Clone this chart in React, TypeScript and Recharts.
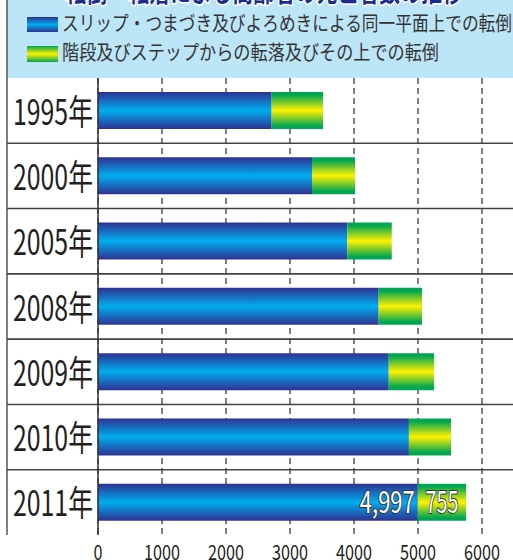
import { BarChart, Bar, XAxis, YAxis, CartesianGrid, ReferenceLine, LabelList } from "recharts";

const title = "転倒・転落による高齢者の死亡者数の推移";
const seriesNames = [
  "スリップ・つまづき及びよろめきによる同一平面上での転倒",
  "階段及びステップからの転落及びその上での転倒",
];
const years = ["1995年", "2000年", "2005年", "2008年", "2009年", "2010年", "2011年"];
const slipValues = [2713, 3344, 3896, 4385, 4543, 4858, 4997];
const stairValues = [804, 673, 694, 678, 709, 658, 755];
const xTicks = [0, 1000, 2000, 3000, 4000, 5000, 6000];
const labeledYear = "2011年";

const data = years.map((year, i) => ({ year, slip: slipValues[i], stairs: stairValues[i] }));

const FONT = "'Noto Sans CJK JP', 'Noto Sans', sans-serif";

const YearTick = (props: any) => {
  const { x, y, payload } = props;
  return (
    <text
      x={x - 37}
      y={y + 14}
      textAnchor="middle"
      fontSize={35}
      fontFamily={FONT}
      fill="#231f20"
      textLength={80}
      lengthAdjust="spacingAndGlyphs"
    >
      {payload.value}
    </text>
  );
};

const NumTick = (props: any) => {
  const { x, y, payload } = props;
  const s = String(payload.value);
  return (
    <text
      x={x}
      y={y + 17}
      textAnchor="middle"
      fontSize={21}
      fontFamily={FONT}
      fill="#231f20"
      textLength={s.length * 9}
      lengthAdjust="spacingAndGlyphs"
    >
      {s}
    </text>
  );
};

// row separators run across the whole frame, not just the plot
const RowLine = (props: any) => (
  <line x1={7} x2={513} y1={props.y1} y2={props.y1} stroke="#444" strokeWidth={1.6} />
);

const valueLabel = (anchor: "end" | "middle") => (props: any) => {
  const { x, y, width, height, value, index } = props;
  if (years[index] !== labeledYear) return null;
  const s = Number(value).toLocaleString("en-US");
  const tx = anchor === "end" ? x + width - 3 : x + width / 2;
  return (
    <text
      x={tx}
      y={y + height / 2 + 11}
      textAnchor={anchor}
      fontSize={30}
      fontFamily={FONT}
      fill="#fff"
      stroke="#333"
      strokeWidth={2}
      paintOrder="stroke"
      textLength={s.length * 11}
      lengthAdjust="spacingAndGlyphs"
    >
      {s}
    </text>
  );
};

export default function App() {
  const lastYear = years[years.length - 1];
  return (
    <div style={{ position: "absolute", left: 0, top: 0, width: 513, height: 560, background: "#fff", overflow: "hidden" }}>
      <svg width={513} height={560} style={{ position: "absolute", left: 0, top: 0 }}>
        <defs>
          <linearGradient id="swBlue" x1="0" y1="0" x2="0" y2="1">
            <stop offset="0" stopColor="#2e3192" />
            <stop offset="0.5" stopColor="#00aeef" />
            <stop offset="1" stopColor="#2e3192" />
          </linearGradient>
          <linearGradient id="swGreen" x1="0" y1="0" x2="0" y2="1">
            <stop offset="0" stopColor="#00a651" />
            <stop offset="0.5" stopColor="#fff200" />
            <stop offset="1" stopColor="#00a651" />
          </linearGradient>
        </defs>
        <rect x={7} y={0} width={506} height={78} fill="#bde5f8" />
        <text
          x={65}
          y={2}
          fontSize={28}
          fontWeight="bold"
          fontFamily={FONT}
          fill="#1d2c8c"
          stroke="#fff"
          strokeWidth={3}
          paintOrder="stroke"
          textLength={398}
          lengthAdjust="spacingAndGlyphs"
        >
          {title}
        </text>
        <rect x={27} y={17} width={31} height={15} fill="url(#swBlue)" />
        <text x={62} y={31} fontSize={20} fontFamily={FONT} fill="#333" textLength={450} lengthAdjust="spacingAndGlyphs">
          {seriesNames[0]}
        </text>
        <rect x={27} y={46} width={31} height={16} fill="url(#swGreen)" />
        <text x={62} y={60} fontSize={20} fontFamily={FONT} fill="#333" textLength={377} lengthAdjust="spacingAndGlyphs">
          {seriesNames[1]}
        </text>
        <line x1={7} x2={7} y1={0} y2={535} stroke="#555" strokeWidth={1.5} />
      </svg>
      <div style={{ position: "absolute", left: 0, top: 0 }}>
        <BarChart
          width={513}
          height={560}
          data={data}
          layout="vertical"
          margin={{ top: 78, right: 31, bottom: 0, left: 7 }}
          barSize={37}
        >
          <defs>
            <linearGradient id="barBlue" x1="0" y1="0" x2="0" y2="1">
              <stop offset="0" stopColor="#2e3192" />
              <stop offset="0.5" stopColor="#00aeef" />
              <stop offset="1" stopColor="#2e3192" />
            </linearGradient>
            <linearGradient id="barGreen" x1="0" y1="0" x2="0" y2="1">
              <stop offset="0" stopColor="#00a651" />
              <stop offset="0.08" stopColor="#00a651" />
              <stop offset="0.5" stopColor="#fff200" />
              <stop offset="0.92" stopColor="#00a651" />
              <stop offset="1" stopColor="#00a651" />
            </linearGradient>
          </defs>
          <CartesianGrid horizontal={false} stroke="#555" strokeWidth={1.5} strokeDasharray="6 4" />
          <XAxis
            type="number"
            domain={[0, 6000]}
            ticks={xTicks}
            axisLine={false}
            tickLine={false}
            height={25}
            tick={<NumTick />}
            interval={0}
          />
          <YAxis
            type="category"
            dataKey="year"
            width={91}
            axisLine={{ stroke: "#333", strokeWidth: 1.5 }}
            tickLine={false}
            tick={<YearTick />}
            interval={0}
          />
          {years.map((y) => (
            <ReferenceLine key={y} y={y} position="start" shape={RowLine} />
          ))}
          <ReferenceLine key="end" y={lastYear} position="end" shape={RowLine} />
          <Bar dataKey="slip" name={seriesNames[0]} stackId="a" fill="url(#barBlue)" isAnimationActive={false}>
            <LabelList dataKey="slip" content={valueLabel("end")} />
          </Bar>
          <Bar dataKey="stairs" name={seriesNames[1]} stackId="a" fill="url(#barGreen)" isAnimationActive={false}>
            <LabelList dataKey="stairs" content={valueLabel("middle")} />
          </Bar>
        </BarChart>
      </div>
    </div>
  );
}
